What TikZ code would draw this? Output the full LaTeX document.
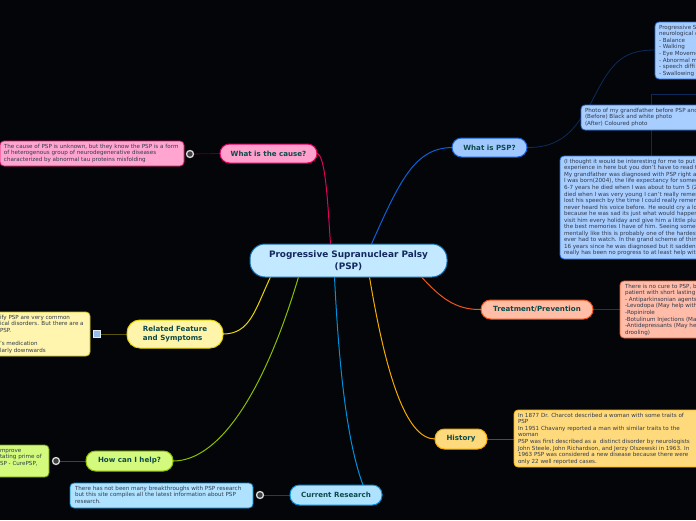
\documentclass[tikz,border=0pt]{standalone}
\usepackage{fontspec}
\setmainfont{DejaVu Sans}
\usetikzlibrary{backgrounds}
\definecolor{bgcol}{HTML}{030508}
\definecolor{txtcol}{HTML}{0E4A4A}
\definecolor{navycol}{HTML}{14285F}
\definecolor{notecol}{HTML}{2F3A4C}
\definecolor{twigblue}{HTML}{0E2A5C}
\tikzstyle{topic}=[draw, line width=1pt, rounded corners=9.5pt, inner sep=0, outer sep=0, align=center, anchor=north west, text=txtcol, font=\bfseries\fontsize{7.1}{9.6}\selectfont]
\tikzstyle{note}=[draw, line width=0.8pt, rounded corners=4pt, inner sep=0, outer sep=0, anchor=north west]
\tikzstyle{notetext}=[inner sep=0, outer sep=0, anchor=north west, align=left, text=notecol, font=\fontsize{5.6}{6.55}\selectfont]
\tikzstyle{branch}=[line width=1pt]
\tikzstyle{twig}=[line width=0.8pt]
\tikzstyle{badge}=[circle, draw=white!85!black, fill=black!75, line width=1.3pt, minimum size=7pt, inner sep=0, outer sep=0]
\begin{document}
\begin{tikzpicture}[x=1pt, y=-1pt]
        \useasboundingbox (0, 0) rectangle (696, 520);
        % topics
        \node[topic, fill={rgb,255:red,194;green,233;blue,255}, draw={rgb,255:red,24;green,110;blue,170}, text=navycol, font=\bfseries\fontsize{8.9}{11.5}\selectfont, minimum width=197pt, minimum height=33pt, rounded corners=15pt] (central) at (250, 244) {Progressive Supranuclear Palsy\\(PSP)};
        \node[topic, fill={rgb,255:red,160;green,200;blue,255}, draw={rgb,255:red,20;green,95;blue,215}, minimum width=75pt, minimum height=19pt] (whatpsp) at (452, 138) {What is PSP?};
        \node[topic, fill={rgb,255:red,255;green,160;blue,205}, draw={rgb,255:red,225;green,0;blue,95}, minimum width=97pt, minimum height=19pt] (cause) at (220, 144) {What is the cause?};
        \node[topic, fill={rgb,255:red,255;green,190;blue,165}, draw={rgb,255:red,240;green,85;blue,30}, minimum width=112pt, minimum height=19pt] (treatment) at (481, 300) {Treatment/Prevention};
        \node[topic, fill={rgb,255:red,255;green,218;blue,125}, draw={rgb,255:red,245;green,170;blue,0}, minimum width=52pt, minimum height=20pt] (history) at (435, 429) {History};
        \node[topic, fill={rgb,255:red,255;green,245;blue,170}, draw={rgb,255:red,235;green,215;blue,0}, minimum width=96pt, minimum height=28pt, align=left, rounded corners=13pt] (related) at (127, 320) {Related Feature\\and Symptoms};
        \node[topic, fill={rgb,255:red,212;green,250;blue,125}, draw={rgb,255:red,140;green,190;blue,0}, minimum width=87pt, minimum height=20pt] (help) at (86, 451) {How can I help?};
        \node[topic, fill={rgb,255:red,175;green,226;blue,255}, draw={rgb,255:red,0;green,145;blue,220}, minimum width=92pt, minimum height=20pt] (research) at (290, 485) {Current Research};
        % boxes round the topics
        \node[note, fill={rgb,255:red,168;green,205;blue,255}, draw={rgb,255:red,40;green,110;blue,220}, minimum width=50pt, minimum height=57pt] (progbox) at (655, 22) {};
        \node[note, fill={rgb,255:red,168;green,205;blue,255}, draw={rgb,255:red,40;green,110;blue,220}, minimum width=125pt, minimum height=25pt] (photobox) at (581, 105) {};
        \node[note, fill={rgb,255:red,168;green,205;blue,255}, draw={rgb,255:red,40;green,110;blue,220}, minimum width=145pt, minimum height=103pt] (storybox) at (560, 156) {};
        \node[note, fill={rgb,255:red,255;green,188;blue,168}, draw={rgb,255:red,240;green,95;blue,45}, minimum width=85pt, minimum height=57pt] (curebox) at (620, 281) {};
        \node[note, fill={rgb,255:red,255;green,218;blue,125}, draw={rgb,255:red,245;green,175;blue,20}, minimum width=190pt, minimum height=57pt] (historybox) at (514, 410) {};
        \node[note, fill={rgb,255:red,255;green,245;blue,175}, draw={rgb,255:red,200;green,190;blue,20}, minimum width=100pt, minimum height=44pt] (relatedbox) at (-10, 312) {};
        \node[note, fill={rgb,255:red,212;green,250;blue,125}, draw={rgb,255:red,110;green,150;blue,10}, minimum width=59pt, minimum height=32pt] (helpbox) at (-10, 445) {};
        \node[note, fill={rgb,255:red,175;green,226;blue,255}, draw={rgb,255:red,0;green,135;blue,210}, minimum width=183pt, minimum height=25pt] (researchbox) at (70, 483) {};
        \node[note, fill={rgb,255:red,255;green,165;blue,208}, draw={rgb,255:red,225;green,20;blue,110}, minimum width=184pt, minimum height=25pt] (causebox) at (0, 141) {};
        % note texts, cut off by the page edge
        \node[notetext] (progtext) at (659, 25) {Progressive S\\neurological c\\- Balance\\- Walking\\- Eye Moveme\\- Abnormal m\\- speech diffi\\- Swallowing};
        \node[notetext] (phototext) at (585, 108) {Photo of my grandfather before PSP and\\(Before) Black and white photo\\(After) Coloured photo};
        \node[notetext] (storytext) at (564, 159) {(I thought it would be interesting for me to put\\experience in here but you don't have to read th\\My grandfather was diagnosed with PSP right ar\\I was born(2004), the life expectancy for someo\\6-7 years he died when I was about to turn 5 (2\\died when I was very young I can't really remem\\lost his speech by the time I could really remem\\never heard his voice before. He would cry a lot\\because he was sad its just what would happen\\visit him every holiday and give him a little plus\\the best memories I have of him. Seeing someo\\mentally like this is probably one of the hardest\\ever had to watch. In the grand scheme of thing\\16 years since he was diagnosed but it saddens\\really has been no progress to at least help with};
        \node[notetext] (curetext) at (625, 284) {There is no cure to PSP, b\\patient with short lasting\\- Antiparkinsonian agents\\-Levodopa (May help with\\-Ropinirole\\-Botulinum Injections (Ma\\-Antidepressants (May he\\drooling)};
        \node[notetext] (historynote) at (518, 413) {In 1877 Dr. Charcot described a woman with some traits of\\PSP\\In 1951 Chavany reported a man with similar traits to the\\woman\\PSP was first described as a\ \ distinct disorder by neurologists\\John Steele, John Richardson, and Jerzy Olszewski in 1963. In\\1963 PSP was considered a new disease because there were\\only 22 well reported cases.};
        \node[notetext] (relatednote) at (0, 315) {ify PSP are very common\\ical disorders. But there are a\\PSP.\\\\'s medication\\larly downwards};
        \node[notetext] (helpnote) at (0, 449) {mprove\\tating prime of\\SP - CurePSP,};
        \node[notetext] (researchnote) at (75, 486) {There has not been many breakthroughs with PSP research\\but this site compiles all the latest information about PSP\\research.};
        \node[notetext] (causenote) at (4, 144) {The cause of PSP is unknown, but they know the PSP is a form\\of heterogenous group of neurodegenerative diseases\\characterized by abnormal tau proteins misfolding};
        % badges
        \node[badge] (causebadge) at (190, 154) {};
        \node[badge] (helpbadge) at (56, 461) {};
        \node[badge] (researchbadge) at (260, 495) {};
        \node[draw={rgb,255:red,225;green,235;blue,245}, fill={rgb,255:red,150;green,190;blue,235}, minimum size=7pt, inner sep=0, outer sep=0] (relatedbadge) at (97, 334) {};
        \coordinate (photoend) at (581, 118);
        \coordinate (photostart) at (590, 105);
        \coordinate (progend) at (655, 50);
        \begin{pgfonlayer}{background}
        \fill[bgcol] (0, 0) rectangle (696, 520);
        % frame of the photo
        \draw[line width=0.8pt, color=twigblue] (760, 94) -- (651, 94) -- (651, 156);
        \draw[branch, color={rgb,255:red,15;green,95;blue,215}] ([xshift=23pt]central.north) .. controls (400, 180) and (415, 148) .. (whatpsp.west);
        \draw[branch, color={rgb,255:red,225;green,0;blue,95}] ([xshift=-18pt]central.north) .. controls (328, 210) and (326, 155) .. (cause.east);
        \draw[branch, color={rgb,255:red,240;green,85;blue,30}] ([xshift=73pt]central.south) .. controls (440, 297) and (455, 310) .. (treatment.west);
        \draw[branch, color={rgb,255:red,245;green,170;blue,0}] ([xshift=21pt]central.south) .. controls (385, 370) and (405, 439) .. (history.west);
        \draw[branch, color={rgb,255:red,235;green,215;blue,0}] ([xshift=-78pt]central.south) .. controls (255, 310) and (250, 334) .. (related.east);
        \draw[branch, color={rgb,255:red,140;green,190;blue,0}] ([xshift=-50pt]central.south) .. controls (265, 390) and (220, 461) .. (help.east);
        \draw[branch, color={rgb,255:red,0;green,145;blue,220}] ([xshift=-14pt]central.south) .. controls (340, 390) and (350, 450) .. ([xshift=27pt]research.north);
        \draw[twig, color=twigblue] (whatpsp.east) .. controls (555, 148) and (570, 135) .. (photoend);
        \draw[twig, color=twigblue] (photostart) .. controls (610, 65) and (620, 50) .. (progend);
        \draw[twig, color={rgb,255:red,95;green,35;blue,15}] (treatment.east) -- (curebox.west |- treatment.east);
        \draw[twig, color={rgb,255:red,105;green,75;blue,10}] (history.east) -- (historybox.west |- history.east);
        \draw[twig, color={rgb,255:red,85;green,0;blue,35}] (cause.west) -- (causebadge);
        \draw[twig, color={rgb,255:red,55;green,80;blue,10}] (help.west) -- (helpbadge);
        \draw[twig, color={rgb,255:red,10;green,70;blue,105}] (research.west) -- (researchbadge);
        \draw[twig, color={rgb,255:red,90;green,85;blue,10}] (related.west) -- (relatedbadge);
        \end{pgfonlayer}
    \end{tikzpicture}
\end{document}
